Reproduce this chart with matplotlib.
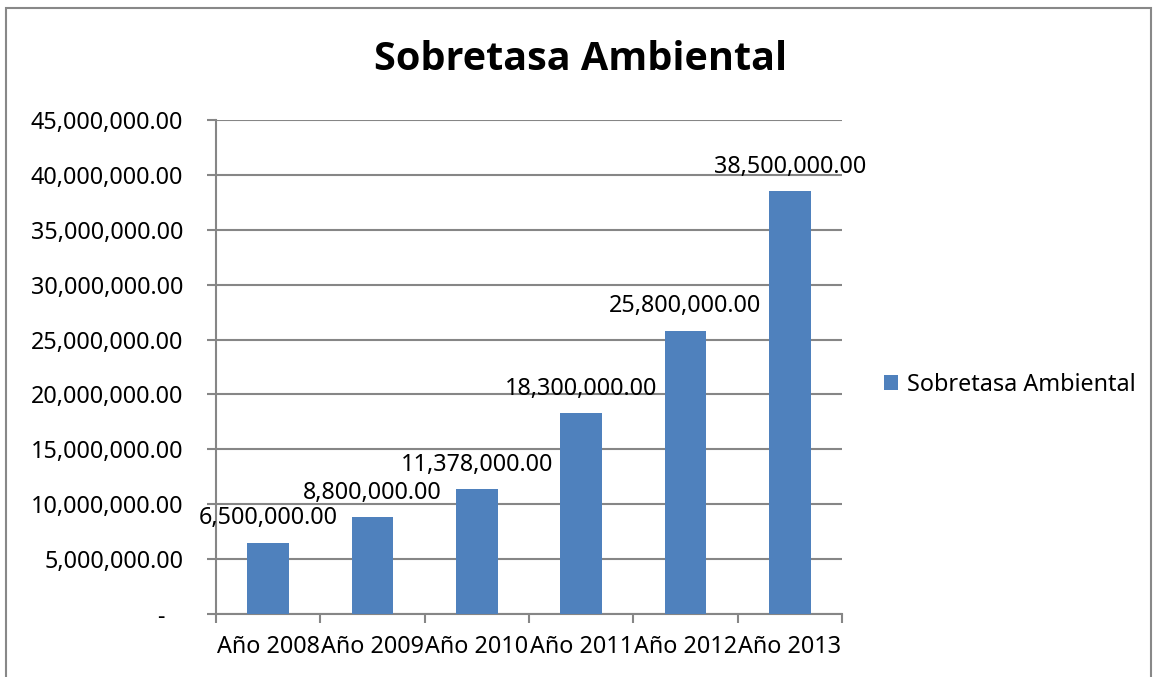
import matplotlib.pyplot as plt
from matplotlib.patches import Rectangle
from matplotlib.ticker import FuncFormatter, FixedLocator

# data
years = ["Año 2008", "Año 2009", "Año 2010", "Año 2011", "Año 2012", "Año 2013"]
sobretasa = [6500000, 8800000, 11378000, 18300000, 25800000, 38500000]
serie_name = "Sobretasa Ambiental"

plt.rcParams['font.family'] = ['Noto Sans', 'DejaVu Sans']

W, H = 1155, 677
fig = plt.figure(figsize=(W / 100, H / 100), dpi=100)
fig.patch.set_facecolor('white')

# outer chart border
fig.patches.append(Rectangle((6 / W, -0.01), (1151 - 6) / W, 1 - 8 / H + 0.01,
                             transform=fig.transFigure, fill=False,
                             edgecolor='#888888', linewidth=1.5))

ax = fig.add_axes([216 / W, 1 - 614 / H, (842 - 216) / W, (614 - 120) / H])

fs = 16.8
grid_col = '#868686'
x = list(range(len(years)))
bars = ax.bar(x, sobretasa, width=0.4, color='#4F81BD', label=serie_name, zorder=3)
ax.bar_label(bars, labels=[f"{v:,.2f}" for v in sobretasa], padding=9, fontsize=fs)

ax.set_xlim(-0.5, len(years) - 0.5)
ax.set_ylim(0, 45000000)
ax.set_yticks(range(0, 45000001, 5000000))
ax.yaxis.set_major_formatter(FuncFormatter(lambda v, p: "-   " if v == 0 else f"{v:,.2f}"))
ax.yaxis.grid(True, color=grid_col, linewidth=1.5, zorder=0)

ax.set_xticks(x)
ax.set_xticklabels(years)
ax.xaxis.set_minor_locator(FixedLocator([i - 0.5 for i in range(len(years) + 1)]))
ax.tick_params(axis='x', which='major', length=0, pad=15, labelsize=fs)
ax.tick_params(axis='x', which='minor', length=6.5, width=1.5, color=grid_col)
ax.tick_params(axis='y', length=6.5, width=1.5, color=grid_col, pad=17, labelsize=fs)

for s in ['top', 'right']:
    ax.spines[s].set_visible(False)
for s in ['left', 'bottom']:
    ax.spines[s].set_color(grid_col)
    ax.spines[s].set_linewidth(1.5)

fig.text(581 / W, 1 - 60 / H, "Sobretasa Ambiental", ha='center', va='center',
         fontsize=28.5, fontweight='bold', family=['Open Sans', 'DejaVu Sans'])

fig.legend(loc='center left', bbox_to_anchor=(884 / W, 1 - 385 / H), frameon=False,
           borderpad=0, borderaxespad=0,
           fontsize=fs, handlelength=0.6, handleheight=0.6, handletextpad=0.4)

plt.savefig("out.png", dpi=100)
